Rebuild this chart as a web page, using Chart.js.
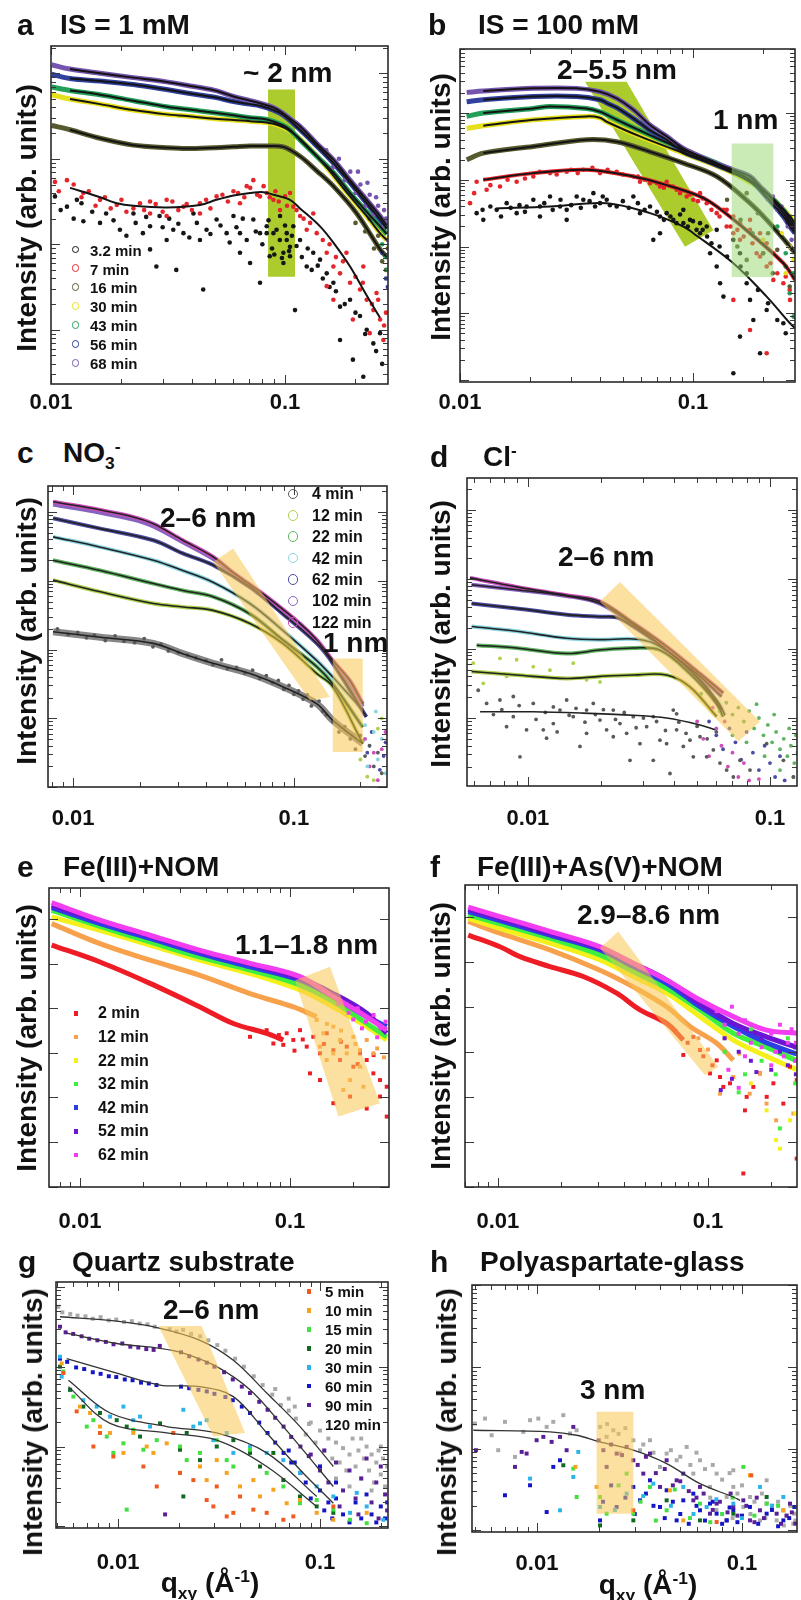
<!DOCTYPE html>
<html>
<head>
<meta charset="utf-8">
<title>GISAXS time series</title>
<script src="https://cdn.jsdelivr.net/npm/chart.js@4.4.0/dist/chart.umd.min.js"></script>
<style>
  html, body { margin: 0; padding: 0; background: #fff; }
  body { position: relative; width: 801px; height: 1600px; overflow: hidden;
         font-family: "Liberation Sans", Arial, Helvetica, sans-serif; color: #111; }
  .cv { position: absolute; }
  .t { position: absolute; font-weight: bold; line-height: 1; white-space: nowrap; z-index: 2; }
  .let { font-size: 30px; }
  .ttl, .ann { font-size: 28px; }
  .ylab { font-size: 28px; transform: translate(-50%, -50%) rotate(-90deg); }
  .xlab { font-size: 28px; transform: translateX(-50%); }
  .leg { position: absolute; font-weight: bold; line-height: 1; white-space: nowrap; z-index: 3; }
  sub, sup { font-size: 0.62em; line-height: 0; }
</style>
</head>
<body>

<div class="t let" style="left:17px;top:10px">a</div>
<div class="t ttl" style="left:60px;top:11px">IS = 1 mM</div>
<div class="t let" style="left:428px;top:10px">b</div>
<div class="t ttl" style="left:478px;top:11px">IS = 100 mM</div>
<div class="t let" style="left:17px;top:438px">c</div>
<div class="t ttl" style="left:63px;top:439px">NO<sub>3</sub><sup>-</sup></div>
<div class="t let" style="left:430px;top:442px">d</div>
<div class="t ttl" style="left:483px;top:443px">Cl<sup>-</sup></div>
<div class="t let" style="left:17px;top:852px">e</div>
<div class="t ttl" style="left:63px;top:853px">Fe(III)+NOM</div>
<div class="t let" style="left:430px;top:852px">f</div>
<div class="t ttl" style="left:477px;top:853px">Fe(III)+As(V)+NOM</div>
<div class="t let" style="left:18px;top:1247px">g</div>
<div class="t ttl" style="left:72px;top:1248px">Quartz substrate</div>
<div class="t let" style="left:430px;top:1247px">h</div>
<div class="t ttl" style="left:480px;top:1248px">Polyaspartate-glass</div>

<div class="t ylab" style="left:27px;top:218px">Intensity (arb. units)</div>
<div class="t ylab" style="left:441px;top:207px">Intensity (arb. units)</div>
<div class="t ylab" style="left:27px;top:631px">Intensity (arb. units)</div>
<div class="t ylab" style="left:441px;top:634px">Intensity (arb. units)</div>
<div class="t ylab" style="left:27px;top:1038px">Intensity (arb. units)</div>
<div class="t ylab" style="left:441px;top:1036px">Intensity (arb. units)</div>
<div class="t ylab" style="left:33px;top:1422px">Intensity (arb. units)</div>
<div class="t ylab" style="left:447px;top:1422px">Intensity (arb. units)</div>

<div class="t xlab" style="left:210px;top:1569px">q<sub>xy</sub> (Å<sup>-1</sup>)</div>
<div class="t xlab" style="left:648px;top:1571px">q<sub>xy</sub> (Å<sup>-1</sup>)</div>

<div class="t ann" style="left:243px;top:59px">~ 2 nm</div>
<div class="t ann" style="left:557px;top:56px">2–5.5 nm</div>
<div class="t ann" style="left:713px;top:106px">1 nm</div>
<div class="t ann" style="left:160px;top:504px">2–6 nm</div>
<div class="t ann" style="left:323px;top:629px">1 nm</div>
<div class="t ann" style="left:558px;top:543px">2–6 nm</div>
<div class="t ann" style="left:235px;top:931px">1.1–1.8 nm</div>
<div class="t ann" style="left:577px;top:901px">2.9–8.6 nm</div>
<div class="t ann" style="left:163px;top:1296px">2–6 nm</div>
<div class="t ann" style="left:580px;top:1376px">3 nm</div>

<script>
// every series is [q (1/Å), log10 intensity (arb. units)]

// ---------- a : IS = 1 mM ----------
const legA = ['3.2 min', '7 min', '16 min', '30 min', '43 min', '56 min', '68 min'];
const colA = ['#161616', '#e4262c', '#57592e', '#e6df1c', '#22a05a', '#30409c', '#7555ae'];
const a68 = [[0.01007,3.10],[0.01206,3.05],[0.0162,3.00],[0.0225,2.95],[0.0312,2.90],[0.038,2.86],[0.0501,2.80],[0.0602,2.73],[0.0709,2.68],[0.0782,2.65],[0.0892,2.60],[0.0984,2.53],[0.105,2.47],[0.1159,2.38],[0.1366,2.18],[0.1609,1.99],[0.1896,1.75],[0.2234,1.52],[0.2547,1.33],[0.272,1.22]];
const a56 = [[0.01007,2.99],[0.01206,2.94],[0.0162,2.91],[0.0225,2.87],[0.0312,2.81],[0.038,2.77],[0.0501,2.72],[0.0602,2.67],[0.0709,2.64],[0.0782,2.62],[0.0892,2.57],[0.0984,2.51],[0.1159,2.34],[0.1366,2.15],[0.1609,1.95],[0.1896,1.72],[0.2234,1.48],[0.2547,1.29],[0.272,1.18]];
const a43 = [[0.01007,2.84],[0.01206,2.80],[0.0162,2.75],[0.0225,2.68],[0.0312,2.61],[0.0433,2.56],[0.0602,2.51],[0.0709,2.48],[0.0835,2.46],[0.0984,2.39],[0.105,2.34],[0.1159,2.22],[0.1366,2.03],[0.1609,1.84],[0.1896,1.60],[0.2234,1.38],[0.2547,1.21],[0.272,1.12]];
const a30 = [[0.01007,2.75],[0.01206,2.70],[0.0162,2.64],[0.0225,2.57],[0.0312,2.52],[0.038,2.50],[0.0501,2.47],[0.0709,2.44],[0.0892,2.41],[0.1085,2.30],[0.1411,1.99],[0.1896,1.56],[0.2234,1.33],[0.2547,1.13],[0.272,1.05]];
const a16 = [[0.01007,2.39],[0.01206,2.34],[0.0162,2.24],[0.0225,2.16],[0.0312,2.13],[0.038,2.12],[0.0501,2.13],[0.0602,2.14],[0.0709,2.15],[0.0835,2.15],[0.0984,2.14],[0.1159,2.03],[0.1366,1.86],[0.1609,1.68],[0.2025,1.36],[0.2547,0.94],[0.272,0.85]];
const a7fit = [[0.01206,1.66],[0.0162,1.55],[0.0191,1.48],[0.0225,1.45],[0.0312,1.43],[0.0433,1.46],[0.051,1.52],[0.0602,1.57],[0.0709,1.60],[0.0808,1.61],[0.0892,1.58],[0.105,1.52],[0.1159,1.42],[0.1411,1.21],[0.1609,1.02],[0.1896,0.74],[0.2234,0.40],[0.2547,0.14]];
const a7 = [[0.0104,1.73],[0.0117,1.75],[0.01375,1.60],[0.0162,1.52],[0.0191,1.46],[0.0225,1.42],[0.0265,1.36],[0.0265,1.50],[0.0312,1.52],[0.0312,1.33],[0.0368,1.44],[0.0433,1.36],[0.0433,1.48],[0.051,1.56],[0.0602,1.62],[0.0642,1.48],[0.0686,1.68],[0.0732,1.75],[0.0782,1.56],[0.0835,1.60],[0.0892,1.52],[0.0952,1.40],[0.105,1.60],[0.1085,1.44],[0.1159,1.33],[0.1238,1.17],[0.1366,1.13],[0.1507,0.90],[0.1609,0.74],[0.1718,0.66],[0.1896,0.55],[0.2091,0.47],[0.2234,0.35],[0.2384,0.23],[0.2547,0.12],[0.1609,0.35],[0.195,0.12],[0.23,-0.04],[0.1507,0.51],[0.2632,-0.12],[0.132,1.36],[0.183,0.90],[0.216,0.74],[0.246,0.43],
  [0.0108,1.62],[0.0125,1.70],[0.0135,1.55],[0.0145,1.62],[0.0155,1.45],[0.017,1.55],[0.018,1.42],[0.02,1.52],[0.021,1.38],[0.024,1.48],[0.025,1.40],[0.028,1.47],[0.03,1.38],[0.033,1.50],[0.035,1.40],[0.038,1.47],[0.04,1.40],[0.046,1.52],[0.048,1.42],[0.054,1.58],[0.057,1.50],[0.063,1.60],[0.067,1.55],[0.071,1.66],[0.076,1.58],[0.081,1.68],[0.086,1.55],[0.091,1.62],[0.094,1.50],[0.1,1.56],[0.102,1.45],[0.112,1.40],[0.12,1.30],[0.128,1.25],[0.145,1.05],[0.155,1.00],[0.165,0.85],[0.177,0.80],[0.2,0.62],[0.215,0.55],[0.235,0.30],[0.25,0.35],[0.265,0.05],[0.27,0.2]];
const a3 = [[0.0104,1.56],[0.0117,1.44],[0.0129,1.52],[0.01375,1.27],[0.0162,1.25],[0.0172,1.36],[0.0197,1.17],[0.0225,1.36],[0.0247,1.13],[0.0265,1.21],[0.0291,1.33],[0.0312,1.05],[0.0333,1.17],[0.0368,1.13],[0.0406,1.36],[0.0433,1.05],[0.0447,0.47],[0.0462,1.17],[0.051,1.29],[0.0563,1.13],[0.0602,1.33],[0.0642,1.13],[0.0686,1.05],[0.0709,0.78],[0.0732,1.29],[0.0782,0.55],[0.0835,1.21],[0.0892,1.13],[0.0952,1.33],[0.0984,0.90],[0.1017,1.13],[0.1085,1.21],[0.1103,0.23],[0.1159,1.05],[0.1238,0.74],[0.132,0.90],[0.1411,0.82],[0.1507,0.66],[0.1609,0.55],[0.1718,0.27],[0.1896,0.35],[0.2091,0.16],[0.2234,0.0],[0.2384,-0.16],[0.2547,-0.04],[0.195,-0.35],[0.216,-0.55],[0.1718,-0.12],[0.0282,0.74],[0.0343,0.70],[0.0265,0.94],[0.0642,0.90],[0.0835,1.13],[0.092,1.17],[0.1017,1.05],[0.086,0.86],[0.0984,0.78],[0.0782,1.13],[0.105,0.97],
  [0.011,1.40],[0.0125,1.30],[0.0135,1.48],[0.015,1.38],[0.0185,1.28],[0.021,1.10],[0.023,1.25],[0.0255,1.32],[0.03,1.20],[0.032,1.30],[0.035,1.24],[0.039,1.08],[0.042,1.25],[0.048,1.12],[0.053,1.22],[0.058,1.02],[0.062,1.20],[0.066,1.30],[0.075,1.15],[0.08,1.00],[0.085,1.28],[0.088,0.95],[0.095,1.05],[0.1,1.22],[0.104,0.92],[0.107,1.10],[0.112,0.98],[0.118,0.85],[0.125,0.95],[0.13,0.70],[0.138,0.75],[0.145,0.60],[0.155,0.50],[0.165,0.45],[0.18,0.30],[0.2,0.20],[0.22,-0.05],[0.245,-0.25],[0.26,-0.40],[0.09,0.88],[0.097,0.84],[0.105,0.86]];
const a68pts = [[0.15,2.1],[0.16,1.9],[0.17,2.0],[0.18,1.75],[0.19,1.85],[0.2,1.6],[0.21,1.7],[0.22,1.45],[0.23,1.58],[0.24,1.35],[0.25,1.45],[0.26,1.2],[0.27,1.3],[0.275,1.05],[0.265,1.4],[0.245,1.55],[0.225,1.72],[0.205,1.85]];
const a16pts = [[0.2,1.25],[0.22,1.15],[0.24,0.95],[0.26,0.8],[0.27,0.7],[0.23,1.3],[0.25,1.1],[0.275,0.95]];
const a43pts = [[0.26,1.0],[0.27,0.85],[0.275,0.7],[0.265,1.2]];
const a56pts = [[0.27,0.6],[0.275,0.5],[0.26,0.9]];
const aBox = [[0.0846,2.81],[0.1103,2.81],[0.1103,0.62],[0.0846,0.62]];

// ---------- b : IS = 100 mM ----------
const b68 = [[0.01068,3.31],[0.01259,3.33],[0.02064,3.37],[0.03168,3.37],[0.0399,3.32],[0.04704,3.22],[0.05546,3.05],[0.0654,2.82],[0.07709,2.65],[0.09089,2.47],[0.1072,2.35],[0.1264,2.24],[0.149,2.15],[0.1757,2.05],[0.194,1.90],[0.2071,1.80],[0.2442,1.50],[0.2608,1.35],[0.274,1.25]];
const b56 = [[0.01068,3.17],[0.01259,3.20],[0.02064,3.25],[0.03168,3.25],[0.0399,3.20],[0.04262,3.15],[0.04704,3.08],[0.05924,2.85],[0.0654,2.74],[0.07709,2.60],[0.09089,2.42],[0.1072,2.32],[0.1264,2.22],[0.149,2.12],[0.1757,2.0],[0.2071,1.74],[0.2442,1.45],[0.2608,1.30],[0.274,1.2]];
const b43 = [[0.01068,2.95],[0.01259,3.0],[0.02064,3.07],[0.02434,3.10],[0.03497,3.07],[0.0399,3.02],[0.04704,2.90],[0.0654,2.67],[0.09089,2.45],[0.1264,2.25],[0.1757,2.0],[0.2071,1.80],[0.2442,1.55],[0.2608,1.40],[0.274,1.3]];
const b30 = [[0.01068,2.77],[0.01259,2.81],[0.02064,2.90],[0.03497,2.95],[0.0399,2.93],[0.04262,2.87],[0.05924,2.65],[0.09089,2.40],[0.149,2.10],[0.2071,1.80],[0.2608,1.45],[0.274,1.35]];
const b16 = [[0.01068,2.30],[0.01259,2.40],[0.02064,2.50],[0.03497,2.60],[0.04704,2.57],[0.0654,2.42],[0.09089,2.25],[0.1264,2.05],[0.1757,1.65],[0.2071,1.40],[0.2608,1.0],[0.274,0.9]];
const b7fit = [[0.01259,2.0],[0.02064,2.10],[0.03497,2.15],[0.05546,2.05],[0.07709,1.92],[0.1072,1.75],[0.1264,1.60],[0.1757,1.20],[0.2442,0.75],[0.274,0.50]];
const b7 = [[0.01104,1.65],[0.01179,1.97],[0.01301,1.85],[0.01485,1.90],[0.01751,1.97],[0.02064,2.05],[0.02434,2.10],[0.0287,2.12],[0.03383,2.15],[0.0399,2.10],[0.04704,2.12],[0.05546,2.05],[0.05924,1.97],[0.0654,1.95],[0.07218,1.90],[0.07709,1.97],[0.08507,1.85],[0.09394,1.75],[0.1003,1.70],[0.1072,1.80],[0.1145,1.65],[0.1264,1.50],[0.1395,1.30],[0.149,1.20],[0.1591,1.10],[0.1757,1.25],[0.1876,0.90],[0.2071,0.70],[0.2212,0.50],[0.2442,0.45],[0.2071,-0.60],[0.1757,-0.25],[0.149,0.20],[0.2608,0.20],[0.272,-0.05],[0.149,1.45],[0.1591,1.35],[0.1757,1.40],[0.194,1.20],[0.2071,1.05],[0.2212,0.90],[0.1395,1.55],[0.194,0.85],
  [0.0115,1.80],[0.0135,1.92],[0.016,2.00],[0.019,2.02],[0.022,2.12],[0.026,2.08],[0.03,2.15],[0.032,2.10],[0.037,2.18],[0.043,2.15],[0.05,2.08],[0.058,2.05],[0.062,2.0],[0.07,1.95],[0.075,1.88],[0.082,1.90],[0.088,1.80],[0.097,1.78],[0.105,1.68],[0.11,1.72],[0.12,1.55],[0.13,1.45],[0.135,1.55],[0.145,1.30],[0.155,1.25],[0.165,1.15],[0.18,1.05],[0.2,0.90],[0.215,0.75],[0.23,0.60],[0.25,0.55],[0.26,0.35]];
const b3fit = [[0.01437,1.57],[0.02434,1.60],[0.04262,1.65],[0.0654,1.50],[0.09089,1.30],[0.1003,1.20],[0.149,0.75],[0.2071,0.25],[0.2608,-0.15],[0.274,-0.22]];
const b3 = [[0.01179,1.50],[0.01259,1.40],[0.01437,1.55],[0.01586,1.65],[0.01751,1.50],[0.01932,1.60],[0.02064,1.70],[0.02204,1.45],[0.02434,1.75],[0.02688,1.60],[0.0287,1.40],[0.03168,1.75],[0.03383,1.70],[0.03736,1.80],[0.0399,1.65],[0.04262,1.70],[0.04704,1.60],[0.05546,1.75],[0.05924,1.50],[0.0654,1.60],[0.07218,1.45],[0.07709,1.50],[0.08234,1.40],[0.09089,1.55],[0.09706,1.40],[0.1036,1.25],[0.1072,1.20],[0.1145,1.30],[0.1264,1.25],[0.06754,1.10],[0.07218,1.20],[0.1184,0.90],[0.1264,0.70],[0.1307,0.45],[0.1351,0.25],[0.149,1.10],[0.1591,0.90],[0.1699,0.60],[0.1757,0.20],[0.1815,-0.10],[0.194,-0.60],[0.1591,-0.35],[0.2071,0.05],[0.2442,-0.15],[0.149,-0.90],[0.1072,1.35],[0.09089,1.35],[0.0287,1.55],[0.02204,1.60],
  [0.0125,1.55],[0.0135,1.60],[0.015,1.45],[0.0165,1.58],[0.018,1.62],[0.019,1.52],[0.023,1.65],[0.025,1.55],[0.027,1.70],[0.03,1.62],[0.033,1.58],[0.036,1.68],[0.038,1.60],[0.041,1.75],[0.044,1.62],[0.05,1.68],[0.053,1.58],[0.058,1.65],[0.062,1.55],[0.07,1.52],[0.075,1.40],[0.08,1.45],[0.085,1.35],[0.088,1.48],[0.095,1.30],[0.1,1.38],[0.11,1.25],[0.115,1.15],[0.12,1.05],[0.13,1.0],[0.14,0.85],[0.16,0.7],[0.17,0.45],[0.19,0.35],[0.21,0.15],[0.23,-0.1],[0.25,-0.3]];
const b68pts = [[0.2,1.85],[0.21,1.7],[0.22,1.75],[0.23,1.55],[0.24,1.6],[0.25,1.4],[0.26,1.45],[0.27,1.25],[0.265,1.1],[0.255,1.3]];
const b30pts = [[0.24,1.2],[0.26,1.0],[0.27,0.8],[0.25,0.6],[0.2,1.1]];
const b43pts = [[0.25,0.9],[0.27,0.6],[0.23,1.3],[0.26,0.3],[0.27,-0.05]];
const b16pts = [[0.15,2.1],[0.17,1.8],[0.19,1.5],[0.21,1.2],[0.23,0.95],[0.25,0.7],[0.18,1.2],[0.2,0.9],[0.16,1.4],[0.22,0.6],[0.26,0.4],[0.14,1.7],[0.155,1.0],[0.17,0.8]];
const bBox1 = [[0.0344,3.47],[0.0519,3.47],[0.1223,1.245],[0.0924,0.995]];
const bBox2 = [[0.1466,2.545],[0.2212,2.545],[0.2212,0.545],[0.1466,0.545]];

// ---------- c : NO3- ----------
const legC = ['4 min', '12 min', '22 min', '42 min', '62 min', '102 min', '122 min'];
const colC = ['#5a5a5a', '#aed14e', '#5eb35e', '#8ad4e0', '#4c4ca4', '#8763c0', '#cc4db8'];
const c122 = [[0.00812,3.15],[0.0133,3.03],[0.0187,2.93],[0.0231,2.83],[0.0314,2.59],[0.043,2.35],[0.0531,2.12],[0.0752,1.77],[0.1064,1.38],[0.127,1.14],[0.15,0.84],[0.1792,0.55],[0.205,0.21]];
const c102 = [[0.00812,3.11],[0.0133,2.99],[0.0187,2.89],[0.0231,2.79],[0.0314,2.56],[0.043,2.32],[0.0531,2.10],[0.0752,1.75],[0.1064,1.36],[0.127,1.12],[0.15,0.83],[0.1792,0.52],[0.205,0.17]];
const c62 = [[0.00812,2.91],[0.0133,2.76],[0.0231,2.59],[0.0314,2.40],[0.043,2.23],[0.0632,1.91],[0.089,1.52],[0.127,1.09],[0.15,0.80],[0.213,0.02]];
const c42 = [[0.00812,2.64],[0.0133,2.49],[0.0231,2.30],[0.0314,2.15],[0.043,1.98],[0.0632,1.67],[0.089,1.28],[0.127,0.84],[0.15,0.60],[0.205,0.12]];
const c22 = [[0.00812,2.30],[0.0133,2.15],[0.0231,1.96],[0.0314,1.86],[0.043,1.77],[0.0632,1.52],[0.089,1.14],[0.127,0.75],[0.15,0.50],[0.205,-0.13]];
const c12 = [[0.00812,2.01],[0.0133,1.84],[0.0231,1.67],[0.0314,1.62],[0.043,1.57],[0.0632,1.38],[0.089,1.09],[0.127,0.65],[0.15,0.46],[0.205,-0.37]];
const c4fit = [[0.00812,1.26],[0.0133,1.18],[0.0231,1.09],[0.0314,0.94],[0.043,0.80],[0.0632,0.65],[0.089,0.46],[0.127,0.21],[0.15,-0.03],[0.205,-0.37]];
const c4 = [[0.0085,1.30],[0.0095,1.22],[0.0105,1.25],[0.0115,1.17],[0.0125,1.21],[0.014,1.13],[0.0155,1.20],[0.017,1.12],[0.019,1.10],[0.021,1.16],[0.023,1.04],[0.025,1.08],[0.027,0.98],[0.03,0.96],[0.033,0.92],[0.036,0.88],[0.04,0.84],[0.043,0.78],[0.047,0.85],[0.05,0.72],[0.055,0.74],[0.06,0.66],[0.065,0.70],[0.07,0.58],[0.075,0.62],[0.08,0.52],[0.085,0.55],[0.09,0.42],[0.095,0.48],[0.1,0.35],[0.105,0.40],[0.11,0.28],[0.115,0.34],[0.12,0.18],[0.13,0.25],[0.135,0.10],[0.14,0.05],[0.15,-0.05],[0.16,-0.20],[0.17,-0.12],[0.18,-0.30],[0.19,-0.45],[0.2,-0.25],[0.21,-0.55],[0.22,-0.40],[0.23,-0.70],[0.24,-0.50],[0.25,-0.80]];
const c42pts = [[0.21,-0.1],[0.22,-0.4],[0.23,-0.2],[0.24,-0.6],[0.25,-0.3],[0.26,-0.8],[0.215,-0.7],[0.235,0.1]];
const c122pts = [[0.21,-0.3],[0.22,-0.7],[0.23,-0.5],[0.24,-0.9],[0.25,-0.45],[0.26,-0.2]];
const c62pts = [[0.215,-0.5],[0.225,-0.2],[0.245,-0.75],[0.255,-0.55],[0.26,-0.35]];
const c12pts = [[0.2,-0.6],[0.215,-0.85],[0.23,-0.9],[0.24,-0.15],[0.25,0.0]];
const cBox1 = [[0.0431,2.275],[0.0531,2.47],[0.1455,0.31],[0.1181,0.26]];
const cBox2 = [[0.15,0.87],[0.205,0.87],[0.205,-0.49],[0.15,-0.49]];

// ---------- d : Cl- ----------
const d122 = [[0.00576,2.02],[0.00898,1.89],[0.01445,1.77],[0.01984,1.68],[0.02723,1.37],[0.0374,1.03],[0.0514,0.64],[0.0641,0.36]];
const d102 = [[0.00585,1.92],[0.00898,1.85],[0.01445,1.76],[0.01984,1.65],[0.02723,1.35],[0.0374,0.98],[0.0514,0.60],[0.0631,0.31]];
const d62 = [[0.00585,1.65],[0.00898,1.58],[0.01445,1.49],[0.01984,1.46],[0.02328,1.45],[0.02723,1.32],[0.0374,0.98],[0.0514,0.55],[0.0631,0.12]];
const d42 = [[0.00585,1.32],[0.00898,1.25],[0.01445,1.15],[0.01984,1.13],[0.02723,1.14],[0.03296,1.08],[0.04385,0.79],[0.0602,0.26],[0.0652,0.04]];
const d22 = [[0.00614,1.05],[0.00898,1.01],[0.01445,0.93],[0.01984,0.98],[0.02723,1.01],[0.0351,0.98],[0.04669,0.64],[0.0602,0.21],[0.0641,0.02]];
const d12 = [[0.00585,0.67],[0.00898,0.62],[0.01445,0.57],[0.01984,0.60],[0.02723,0.62],[0.0374,0.62],[0.04669,0.45],[0.0602,0.02]];
const d12pts = [[0.00594,0.79],[0.00766,0.86],[0.00898,0.84],[0.01052,0.74],[0.01233,0.69],[0.01539,0.79],[0.01747,0.55],[0.01984,0.52],[0.00654,0.50],[0.00816,0.60]];
const d4fit = [[0.00634,0.09],[0.0105,0.09],[0.01693,0.07],[0.02723,0.04],[0.0374,0.0],[0.0514,-0.10],[0.0593,-0.17]];
const d4 = [[0.00623,0.40],[0.00675,0.21],[0.00766,0.26],[0.00816,-0.125],[0.0087,0.31],[0.00927,-0.56],[0.00987,-0.17],[0.01052,0.21],[0.01157,-0.17],[0.01194,-0.29],[0.01273,0.16],[0.01356,0.115],[0.01445,0.26],[0.01539,0.02],[0.0164,-0.41],[0.01747,0.115],[0.01862,0.21],[0.01984,-0.03],[0.02114,-0.17],[0.02252,0.115],[0.024,-0.08],[0.02557,-0.22],[0.02724,0.02],[0.02903,-0.37],[0.03093,-0.125],[0.03295,-0.61],[0.03511,-0.32],[0.03741,-0.37],[0.03986,0.115],[0.04115,-0.17],[0.04385,-0.41],[0.04671,-0.32],[0.04822,-0.56],[0.05138,-0.27],[0.05474,-0.56],[0.05833,-0.46],[0.06215,-0.65],[0.06621,-0.75],[0.07055,-0.85],[0.07516,-0.61],[0.08268,-0.75],[0.09688,-0.37],[0.1136,-0.61],[0.1249,-0.85],[0.03862,-0.80],[0.0264,-0.61],[0.0087,0.02],[0.01273,-0.08],[0.02252,-0.27],[0.01747,-0.22],[0.03295,0.02],[0.04115,0.06],
  [0.0072,0.05],[0.0078,0.12],[0.0092,0.18],[0.0108,-0.02],[0.0118,0.08],[0.0132,-0.20],[0.0148,0.04],[0.0158,0.14],[0.0172,-0.06],[0.019,0.05],[0.0205,0.12],[0.023,-0.02],[0.025,0.08],[0.028,-0.14],[0.03,0.0],[0.034,-0.05],[0.037,-0.18],[0.042,-0.06],[0.045,-0.22],[0.05,-0.12],[0.055,-0.30],[0.06,-0.20]];
const d22pts = [[0.052,0.35],[0.058,0.30],[0.062,0.10],[0.066,0.22],[0.07,0.05],[0.074,0.15],[0.078,-0.05],[0.082,0.10],[0.086,-0.15],[0.09,0.0],[0.094,-0.25],[0.098,-0.10],[0.102,-0.35],[0.106,-0.20],[0.11,-0.45],[0.114,-0.30],[0.118,-0.55],[0.122,-0.40],[0.126,-0.65],[0.13,-0.50],[0.08,-0.35],[0.095,-0.55],[0.11,-0.75],[0.125,-0.85],[0.07,-0.25],[0.088,0.20],[0.104,0.05],[0.12,-0.15],[0.128,-0.25]];
const d62pts = [[0.056,-0.05],[0.06,-0.25],[0.064,-0.45],[0.068,-0.15],[0.072,-0.35],[0.076,-0.60],[0.08,-0.20],[0.085,-0.50],[0.09,-0.75],[0.095,-0.40],[0.1,-0.65],[0.105,-0.85],[0.11,-0.55],[0.115,-0.9]];
const d122pts = [[0.05,-0.05],[0.053,-0.30],[0.056,-0.55],[0.06,-0.15],[0.063,-0.40],[0.067,-0.70],[0.07,-0.50],[0.074,-0.85],[0.078,-0.65],[0.082,-0.90],[0.09,-0.88],[0.058,0.15],[0.065,-0.05]];
const dBox = [[0.01984,1.68],[0.024,1.96],[0.0909,-0.05],[0.074,-0.34]];

// ---------- e : Fe(III)+NOM ----------
const legE = ['2 min', '12 min', '22 min', '32 min', '42 min', '52 min', '62 min'];
const colE = ['#ee1c24', '#f7a14c', '#f4f01c', '#3ef03e', '#2b3fe6', '#6a14d4', '#f23ef0'];
const e2 = [[0.00733,4.42],[0.01245,4.04],[0.02154,3.56],[0.03728,3.03],[0.0537,2.66],[0.0774,2.44],[0.0929,2.29]];
const e2pts = [[0.0964,2.44],[0.1037,2.29],[0.1116,2.51],[0.1201,2.14],[0.1291,2.36],[0.1389,1.99],[0.1495,2.44],[0.1608,2.06],[0.173,1.84],[0.1862,2.14],[0.2003,1.69],[0.2154,1.99],[0.2318,1.84],[0.2494,1.54],[0.2683,1.39],[0.2887,1.24],[0.2887,0.57],[0.1245,1.54],[0.1389,1.39],[0.1608,0.87],[0.1931,1.02],[0.2318,0.75],[0.2683,1.02],[0.0645,2.36],[0.0774,2.51],[0.0833,2.21],[0.0885,2.40],[0.0929,2.18],[0.105,2.05],[0.115,2.30],[0.145,2.20],[0.175,2.25],[0.21,1.75],[0.25,1.95]];
const e12 = [[0.00733,4.90],[0.01245,4.45],[0.02154,4.08],[0.03728,3.74],[0.0645,3.33],[0.1037,3.03],[0.134,2.81]];
const e12pts = [[0.134,2.74],[0.1441,2.44],[0.1608,2.59],[0.173,2.29],[0.1862,1.99],[0.2003,2.36],[0.2154,2.06],[0.1608,1.99],[0.1931,1.39],[0.2235,1.24],[0.2318,2.29],[0.1795,1.17],[0.1389,2.14],[0.1495,1.84],[0.2494,1.99],[0.2154,1.69],[0.12,2.9],[0.15,2.65],[0.175,2.5],[0.205,2.2],[0.26,2.1],[0.28,1.9]];
const e22 = [[0.00733,5.05],[0.01245,4.75],[0.02154,4.42],[0.03728,4.08],[0.0645,3.78],[0.1116,3.41],[0.1608,3.03],[0.2318,2.59],[0.2887,2.29]];
const e32 = [[0.00733,5.20],[0.01245,4.84],[0.02154,4.49],[0.03728,4.15],[0.0645,3.86],[0.1116,3.52],[0.1608,3.15],[0.2318,2.66],[0.2887,2.36]];
const e42 = [[0.00733,5.26],[0.01245,4.90],[0.02154,4.57],[0.03728,4.23],[0.0645,3.93],[0.1116,3.63],[0.1608,3.26],[0.2318,2.81],[0.2887,2.59]];
const e52 = [[0.00733,5.31],[0.01245,4.96],[0.02154,4.62],[0.03728,4.28],[0.0645,3.99],[0.1116,3.67],[0.1608,3.33],[0.2318,2.89],[0.2887,2.44]];
const e62 = [[0.00733,5.37],[0.01245,4.98],[0.02154,4.64],[0.03728,4.30],[0.0645,4.01],[0.1116,3.71],[0.1608,3.26],[0.2318,2.81],[0.2887,2.51]];
const e62pts = [[0.17,3.1],[0.19,2.9],[0.21,3.0],[0.23,2.7],[0.25,2.85],[0.27,2.55],[0.285,2.7],[0.22,2.55],[0.26,2.35],[0.2,2.75]];
const eBox = [[0.1057,3.63],[0.155,3.93],[0.268,0.87],[0.17,0.57]];

// ---------- f : Fe(III)+As(V)+NOM ----------
const f2 = [[0.00722,4.59],[0.01022,4.33],[0.01273,4.11],[0.01768,3.89],[0.02548,3.67],[0.03674,3.30],[0.04745,2.93],[0.0636,2.63],[0.0763,2.26]];
const f2pts = [[0.0763,1.93],[0.1022,1.52],[0.1141,1.44],[0.1183,1.22],[0.1528,1.0],[0.15,0.70],[0.1903,1.0],[0.2284,0.85],[0.1473,-0.70],[0.2643,-0.37],[0.0852,2.33],[0.0916,2.04],[0.11,1.81],[0.1273,1.30],[0.1644,1.22],[0.1768,1.52],[0.2048,1.30],[0.2458,1.67],[0.2645,1.37],[0.08,2.2],[0.07,2.45],[0.095,1.9],[0.105,1.7]];
const f12 = [[0.00722,4.89],[0.01022,4.63],[0.01768,4.26],[0.0306,3.81],[0.0441,3.44],[0.0636,3.0],[0.0821,2.56],[0.11,2.19],[0.132,1.81]];
const f12pts = [[0.132,1.44],[0.158,1.07],[0.19,0.85],[0.211,0.48],[0.255,0.63],[0.1141,1.07],[0.141,1.96],[0.1768,1.52],[0.09,2.3],[0.1,2.05],[0.12,2.3]];
const f22 = [[0.00722,4.96],[0.01022,4.74],[0.01768,4.41],[0.0306,4.04],[0.0441,3.67],[0.0636,3.30],[0.0916,2.78],[0.132,2.26],[0.19,1.9],[0.265,1.6]];
const f22pts = [[0.211,0.04],[0.22,-0.15],[0.2458,0.48],[0.19,0.70],[0.26,0.63],[0.16,1.3]];
const f32 = [[0.00722,5.04],[0.01022,4.84],[0.01768,4.52],[0.0306,4.15],[0.0441,3.78],[0.0636,3.41],[0.0916,2.93],[0.132,2.41],[0.19,2.1],[0.265,1.8]];
const f32pts = [[0.12,2.0],[0.15,1.5],[0.18,1.8],[0.21,1.5],[0.24,2.3],[0.26,1.3],[0.14,1.1],[0.22,0.3],[0.16,2.5]];
const f42 = [[0.00722,5.11],[0.01022,4.91],[0.01768,4.59],[0.0306,4.26],[0.0441,3.89],[0.0636,3.52],[0.0916,3.0],[0.132,2.56],[0.19,2.2],[0.265,1.95]];
const f52 = [[0.00722,5.16],[0.01022,4.96],[0.01768,4.63],[0.0306,4.30],[0.0441,3.96],[0.0636,3.59],[0.0916,3.07],[0.132,2.63],[0.19,2.33],[0.265,2.1]];
const f52pts = [[0.12,2.3],[0.14,2.0],[0.16,1.8],[0.18,2.3],[0.2,1.6],[0.22,2.0],[0.24,1.7],[0.26,2.1],[0.13,1.4],[0.17,1.55],[0.262,1.5],[0.115,1.15]];
const f62 = [[0.00722,5.21],[0.01022,5.0],[0.01768,4.67],[0.0306,4.33],[0.0441,3.96],[0.0636,3.59],[0.0916,3.15],[0.132,2.78],[0.19,2.48],[0.265,2.41]];
const f62pts = [[0.11,2.9],[0.12,2.6],[0.13,3.0],[0.14,2.4],[0.15,2.7],[0.16,2.2],[0.17,2.55],[0.18,2.1],[0.2,2.4],[0.21,2.0],[0.22,2.6],[0.23,1.9],[0.24,2.2],[0.25,2.5],[0.26,1.8],[0.262,2.2],[0.15,1.9],[0.2,1.7],[0.125,1.6],[0.14,1.2]];
const fBox = [[0.0306,4.30],[0.0374,4.67],[0.112,1.67],[0.0968,1.48]];

// ---------- g : quartz substrate ----------
const legG = ['5 min', '10 min', '15 min', '20 min', '30 min', '60 min', '90 min', '120 min'];
const colG = ['#f05a1e', '#f7a21c', '#40e040', '#0f6a1f', '#2cb4ea', '#1515c8', '#5a1f96', '#a9a9a9'];
const g120 = [[0.00506,2.75],[0.0053,2.68],[0.0058,2.66],[0.0063,2.64],[0.0069,2.63],[0.0075,2.60],[0.0082,2.62],[0.009,2.58],[0.0098,2.59],[0.0107,2.56],[0.0117,2.57],[0.0128,2.54],[0.014,2.53],[0.0152,2.50],[0.018,2.47],[0.0195,2.44],[0.021,2.46],[0.023,2.41],[0.0255,2.38],[0.028,2.33],[0.031,2.27],[0.034,2.2],[0.038,2.1],[0.042,2.0],[0.047,1.88],[0.052,1.77],[0.058,1.65],[0.064,1.52],[0.07,1.45],[0.076,1.35],[0.085,1.15],[0.09,1.3],[0.095,1.05],[0.1,1.2],[0.105,0.95],[0.11,1.1],[0.115,0.85],[0.12,1.05],[0.125,0.8],[0.13,0.98],[0.135,0.7],[0.14,0.9],[0.145,1.1],[0.15,0.75],[0.155,0.95],[0.16,0.6],[0.165,0.85],[0.17,1.0],[0.175,0.7],[0.18,0.9],[0.185,0.55],[0.19,0.8],[0.195,0.95],[0.2,0.65],[0.205,0.85],[0.21,0.5],[0.215,0.75],[0.1,0.75],[0.12,0.6],[0.14,0.5],[0.16,1.1],[0.18,0.45],[0.2,1.0],[0.07,1.6],[0.075,1.5],[0.06,1.72]];
const g90 = [[0.00516,2.50],[0.0055,2.43],[0.006,2.41],[0.0066,2.38],[0.0072,2.35],[0.0079,2.33],[0.0087,2.31],[0.0095,2.28],[0.0105,2.29],[0.0115,2.25],[0.0126,2.24],[0.0138,2.22],[0.015,2.21],[0.0161,2.26],[0.0205,2.18],[0.0225,2.13],[0.025,2.09],[0.0275,2.05],[0.03,2.0],[0.0335,1.93],[0.037,1.84],[0.041,1.75],[0.045,1.67],[0.05,1.56],[0.055,1.46],[0.06,1.36],[0.066,1.25],[0.072,1.12],[0.08,1.0],[0.088,0.88],[0.09,0.9],[0.1,0.7],[0.105,0.95],[0.11,0.55],[0.12,0.8],[0.13,0.45],[0.14,0.7],[0.15,0.35],[0.16,0.6],[0.17,0.85],[0.18,0.3],[0.19,0.55],[0.2,0.75],[0.21,0.4],[0.215,0.2],[0.125,0.25],[0.155,0.15],[0.195,0.1],[0.0171,0.15]];
const g60 = [[0.00516,2.10],[0.0056,2.06],[0.0062,1.99],[0.0068,1.97],[0.0075,1.93],[0.0082,1.91],[0.009,1.88],[0.0098,1.87],[0.0108,1.84],[0.0118,1.83],[0.013,1.80],[0.0142,1.79],[0.0155,1.77],[0.0205,1.75],[0.0225,1.73],[0.025,1.71],[0.0275,1.69],[0.03,1.66],[0.034,1.62],[0.037,1.58],[0.041,1.50],[0.045,1.42],[0.05,1.30],[0.055,1.17],[0.06,1.05],[0.066,0.92],[0.072,0.80],[0.08,0.67],[0.085,0.55],[0.09,0.35],[0.1,0.45],[0.105,0.2],[0.11,0.3],[0.115,0.1],[0.12,0.35],[0.13,0.15],[0.14,0.05],[0.15,0.3],[0.16,0.1],[0.17,0.4],[0.18,0.15],[0.19,0.05],[0.2,0.25],[0.21,0.1],[0.215,0.3],[0.12,0.55],[0.1,0.75],[0.07,0.95],[0.075,0.8]];
const g30 = [[0.00516,2.125],[0.00526,1.875],[0.00579,1.71],[0.00673,1.58],[0.00784,1.5],[0.00913,1.375],[0.01063,1.5],[0.0119,1.33],[0.01285,1.375],[0.0144,1.25],[0.02105,1.46],[0.0236,1.25],[0.02546,1.29],[0.02747,1.33],[0.02965,1.08],[0.03452,1.17],[0.03723,0.92],[0.04503,1.0],[0.05446,0.92],[0.06582,0.83],[0.0796,0.67],[0.0963,0.5],[0.1164,0.375],[0.1408,0.17],[0.1703,0.25],[0.2058,0.083],[0.152,0.42]];
const g20 = [[0.00516,2.0],[0.00579,1.71],[0.00673,1.5],[0.00814,1.42],[0.00985,1.33],[0.01104,1.25],[0.01285,1.125],[0.01614,1.29],[0.02027,0.96],[0.02188,1.17],[0.02546,0.83],[0.03081,1.0],[0.03723,1.08],[0.04503,0.92],[0.05047,0.75],[0.05875,0.92],[0.06582,0.58],[0.0796,0.375],[0.0963,0.25],[0.1164,0.17],[0.02105,0.375]];
const g15 = [[0.00536,1.94],[0.00601,1.625],[0.007,1.25],[0.00755,1.33],[0.00879,1.125],[0.00948,0.92],[0.01063,1.04],[0.0119,1.21],[0.01335,0.96],[0.01555,1.08],[0.02027,1.0],[0.02188,0.83],[0.02546,0.92],[0.03081,1.08],[0.03452,0.83],[0.03723,0.75],[0.04503,0.96],[0.05446,0.67],[0.06582,0.5],[0.0796,0.29],[0.0963,0.33],[0.1164,0.21],[0.1408,0.083],[0.01104,0.21],[0.1703,0.04]];
const g10 = [[0.00526,2.04],[0.00648,1.5],[0.00727,1.42],[0.00814,1.25],[0.00913,1.17],[0.01063,0.92],[0.0119,1.17],[0.01386,1.0],[0.01496,0.92],[0.01742,1.04],[0.02027,0.67],[0.02546,0.75],[0.02747,0.58],[0.03081,0.83],[0.03452,0.67],[0.04018,0.5],[0.04677,0.58],[0.05047,0.375],[0.05875,0.46],[0.06839,0.29],[0.0796,0.33],[0.0963,0.17],[0.1164,0.083],[0.1703,0.17]];
const g5 = [[0.00536,1.92],[0.00624,1.44],[0.00755,1.0],[0.00814,1.17],[0.00948,0.875],[0.01335,0.75],[0.01555,0.5],[0.01878,1.17],[0.02027,0.67],[0.0236,0.58],[0.02747,0.33],[0.02965,0.25],[0.03452,0.125],[0.03723,0.17],[0.04018,0.375],[0.04677,0.21],[0.05446,0.17],[0.06582,0.083],[0.07379,0.125],[0.03081,0.5],[0.1164,0.25]];
const g120fit = [[0.00516,2.625],[0.00985,2.57],[0.01555,2.49],[0.02546,2.33],[0.03723,2.08],[0.05446,1.67],[0.0796,1.25],[0.1164,0.75]];
const g90fit = [[0.00557,2.42],[0.00985,2.29],[0.01614,2.23],[0.02105,2.17],[0.03081,2.0],[0.04503,1.71],[0.06582,1.25],[0.0963,0.75],[0.1164,0.5]];
const g60fit = [[0.00557,2.10],[0.00985,1.92],[0.01614,1.77],[0.02546,1.75],[0.03723,1.625],[0.05446,1.17],[0.0796,0.71],[0.1164,0.29]];
const gFitA = [[0.00568,1.83],[0.00913,1.42],[0.01742,1.25],[0.03081,1.17],[0.05446,0.92],[0.0963,0.375]];
const gFitB = [[0.00568,1.75],[0.00913,1.29],[0.01742,1.17],[0.03081,1.08],[0.05446,0.75],[0.0963,0.25]];
const gBox = [[0.01584,2.51],[0.02596,2.51],[0.04253,1.17],[0.02964,1.125]];

// ---------- h : polyaspartate-glass ----------
const h120 = [[0.00498,1.306],[0.00558,1.367],[0.00601,1.163],[0.00647,0.98],[0.00698,1.327],[0.00781,0.898],[0.00858,1.204],[0.00925,1.347],[0.01015,1.367],[0.01115,1.265],[0.01201,1.327],[0.01344,1.408],[0.01449,1.184],[0.01561,1.224],[0.0203,1.265],[0.02187,1.143],[0.02357,1.224],[0.02951,1.102],[0.03557,1.102],[0.0429,0.939],[0.05372,1.02],[0.06238,0.857],[0.07521,0.694],[0.09071,0.531],[0.1094,0.408],[0.1319,0.327],[0.1591,0.245],[0.18,0.204],[0.02541,0.939],[0.0318,0.98],[0.03981,0.776],[0.048,0.857],[0.05789,0.694],[0.06981,0.531],[0.08418,0.408],[0.1015,0.286],[0.1224,0.122],[0.1476,0.122],[0.178,0.082],[0.09071,0.735],[0.1319,0.612],
  [0.022,1.30],[0.025,1.18],[0.027,1.25],[0.033,1.05],[0.037,0.95],[0.045,0.98],[0.05,0.90],[0.056,0.80],[0.06,0.95],[0.066,0.75],[0.072,0.80],[0.08,0.62],[0.087,0.70],[0.095,0.45],[0.1,0.55],[0.115,0.35],[0.125,0.45],[0.14,0.25],[0.15,0.35],[0.165,0.18],[0.172,0.30],[0.182,0.12],[0.11,0.2],[0.13,0.15],[0.16,0.06],[0.07,0.4],[0.09,0.15],[0.075,0.25]];
const h90 = [[0.00504,0.98],[0.00781,0.776],[0.00842,0.959],[0.0089,0.939],[0.00996,1.102],[0.01074,1.143],[0.01179,1.082],[0.01295,1.143],[0.01395,0.98],[0.01504,1.265],[0.02107,0.98],[0.02446,0.939],[0.02951,0.857],[0.03557,0.939],[0.0429,0.857],[0.05172,0.694],[0.06238,0.531],[0.07521,0.327],[0.09071,0.286],[0.1094,0.122],[0.02187,0.776],[0.02737,1.02],[0.03301,0.694],[0.03981,0.531],[0.048,0.612],[0.05789,0.367],[0.06981,0.204],[0.08418,0.122],[0.1015,0.367],[0.1224,0.245],[0.1476,0.204],[0.1715,0.327],[0.182,0.082],
  [0.02,1.10],[0.023,1.05],[0.026,0.92],[0.031,0.80],[0.034,0.90],[0.038,0.70],[0.042,0.75],[0.046,0.55],[0.05,0.60],[0.055,0.48],[0.06,0.40],[0.065,0.45],[0.072,0.25],[0.078,0.35],[0.085,0.22],[0.095,0.18],[0.105,0.30],[0.115,0.10],[0.128,0.15],[0.14,0.30],[0.155,0.08],[0.165,0.18],[0.175,0.22],[0.118,0.40],[0.088,0.45]];
const h60 = [[0.00698,0.429],[0.00925,0.551],[0.01115,0.224],[0.01201,0.776],[0.01295,0.857],[0.0203,0.122],[0.02446,0.286],[0.02951,0.531],[0.03557,0.612],[0.0429,0.49],[0.05172,0.367],[0.06238,0.245],[0.07521,0.204],[0.09071,0.245],[0.1319,0.204],[0.0318,0.367],[0.03981,0.286],[0.048,0.122],[0.05789,0.449],[0.06981,0.327],[0.08418,0.122],[0.1094,0.286],[0.1591,0.122],[0.18,0.286],
  [0.021,0.35],[0.023,0.55],[0.027,0.40],[0.03,0.20],[0.034,0.45],[0.037,0.30],[0.042,0.15],[0.046,0.35],[0.05,0.20],[0.055,0.08],[0.06,0.30],[0.066,0.12],[0.072,0.35],[0.08,0.08],[0.087,0.28],[0.095,0.10],[0.1,0.18],[0.12,0.08],[0.14,0.25],[0.15,0.05],[0.17,0.15]];
const h30 = [[0.01295,0.245],[0.0159,0.959],[0.01504,0.653],[0.00925,0.633],[0.0203,0.286],[0.02737,0.449],[0.03694,0.571],[0.05172,0.531],[0.09071,0.327],[0.06724,0.286],[0.1224,0.531],[0.1591,0.408],[0.024,0.25],[0.033,0.42],[0.045,0.30],[0.058,0.20],[0.075,0.38],[0.1,0.15],[0.14,0.30]];
const h15 = [[0.01504,0.755],[0.01561,0.408],[0.0203,0.408],[0.02187,0.204],[0.02951,0.204],[0.03557,0.531],[0.0429,0.245],[0.06238,0.327],[0.1015,0.776],[0.1319,0.327],[0.02737,0.694],[0.0558,0.15],[0.08,0.2],[0.025,0.55],[0.032,0.35],[0.038,0.12],[0.047,0.50],[0.07,0.10],[0.09,0.40],[0.115,0.18],[0.15,0.30]];
const h20 = [[0.01344,0.796],[0.0203,0.061],[0.02951,0.122],[0.0429,0.367],[0.06238,0.122],[0.09071,0.204],[0.1319,0.408]];
const h10 = [[0.0154,0.776],[0.01954,0.531],[0.0445,0.49],[0.1094,0.673],[0.05172,0.122],[0.1591,0.245]];
const h5 = [[0.111,0.673],[0.07521,0.102],[0.02951,0.245]];
const hFit = [[0.00489,1.224],[0.01157,1.204],[0.01561,1.163],[0.0203,1.082],[0.02951,0.98],[0.0429,0.816],[0.06238,0.571],[0.09071,0.408],[0.0978,0.367]];
const hBox = [[0.01954,1.449],[0.02951,1.449],[0.02951,0.204],[0.01954,0.204]];

// x tick labels
const xTickVals = [0.01, 0.1];
const xTickText = ['0.01', '0.1'];

// ---------- dataset helpers ----------
const xy = pts => pts.map(p => ({ x: p[0], y: p[1] }));
function band(pts, color, w) {
  return { data: xy(pts), borderColor: color, borderWidth: w, pointRadius: 0, tension: 0.35, fill: false, order: 4, clip: 0 };
}
function fit(pts, w, color) {
  return { data: xy(pts), borderColor: color || '#141414', borderWidth: w, pointRadius: 0, tension: 0.35, fill: false, order: 1, clip: 0 };
}
function dots(pts, color, r, style) {
  return { data: xy(pts), showLine: false, pointRadius: r, pointStyle: style || 'circle',
           pointBackgroundColor: color, pointBorderWidth: 0, borderColor: color, backgroundColor: color, order: 3, clip: 0 };
}
function shade(pts, color, onTop) {
  return { data: xy(pts.concat([pts[0]])), borderWidth: 0, borderColor: 'rgba(0,0,0,0)', backgroundColor: color,
           pointRadius: 0, tension: 0, fill: 'shape', order: onTop ? 0 : 10, clip: 0 };
}

// frame with inward ticks on all four sides
const framePlugin = {
  id: 'frame',
  afterDatasetsDraw(chart, args, opts) {
    const { ctx, chartArea: a, scales: { x, y } } = chart;
    ctx.save();
    ctx.strokeStyle = '#3a3a3a';
    ctx.lineWidth = 1;
    ctx.beginPath();
    for (let e = -3; e <= 0; e++) {
      for (let k = 1; k <= 9; k++) {
        const v = k * Math.pow(10, e);
        if (v < x.min * 0.999 || v > x.max * 1.001) continue;
        const px = Math.round(x.getPixelForValue(v)) + 0.5;
        const len = k === 1 ? 9 : 5;
        ctx.moveTo(px, a.bottom); ctx.lineTo(px, a.bottom - len);
        ctx.moveTo(px, a.top); ctx.lineTo(px, a.top + len);
      }
    }
    for (let n = Math.floor(y.min); n <= Math.ceil(y.max); n++) {
      for (let k = 1; k <= (opts.yMinor ? 9 : 1); k++) {
        const v = n + Math.log10(k);
        if (v < y.min || v > y.max) continue;
        const py = Math.round(y.getPixelForValue(v)) + 0.5;
        const len = k === 1 ? 9 : 5;
        ctx.moveTo(a.left, py); ctx.lineTo(a.left + len, py);
        ctx.moveTo(a.right, py); ctx.lineTo(a.right - len, py);
      }
    }
    ctx.stroke();
    ctx.lineWidth = 1.6;
    ctx.strokeStyle = '#2a2a2a';
    ctx.strokeRect(a.left, a.top, a.right - a.left, a.bottom - a.top);
    ctx.restore();
  }
};

function tickText(v) {
  for (let i = 0; i < xTickVals.length; i++) {
    if (Math.abs(Math.log10(v) - Math.log10(xTickVals[i])) < 1e-4) return xTickText[i];
  }
  return '';
}

function makePanel(p) {
  // the x scale adds its tick padding to its side paddings, so leave room on both sides
  const padL = 36, padR = 26, padT = 6, axisH = 48;
  const w = p.R - p.L + padL + padR, h = p.B - p.T + padT + axisH;
  const cv = document.createElement('canvas');
  cv.width = w; cv.height = h; cv.className = 'cv';
  cv.style.left = (p.L - padL) + 'px'; cv.style.top = (p.T - padT) + 'px';
  cv.style.width = w + 'px'; cv.style.height = h + 'px';
  document.body.appendChild(cv);
  new Chart(cv, {
    type: 'line',
    data: { datasets: p.sets },
    options: {
      responsive: false, animation: false, devicePixelRatio: 1,
      layout: { padding: { left: padL, right: padR, top: padT, bottom: 0 } },
      plugins: { legend: { display: false }, tooltip: { enabled: false }, frame: { yMinor: p.yMinor } },
      scales: {
        x: {
          type: 'logarithmic', min: p.xmin, max: p.xmax,
          grid: { display: false, drawTicks: false }, border: { display: false },
          ticks: { autoSkip: false, maxRotation: 0, minRotation: 0, padding: p.lab, color: '#111',
                   font: { family: '"Liberation Sans", Arial, sans-serif', size: 22, weight: 'bold' },
                   callback: v => tickText(v) },
          afterFit: s => { s.height = axisH; }
        },
        y: { type: 'linear', min: p.ymin, max: p.ymax, display: false }
      }
    },
    plugins: [framePlugin]
  });
}

function legend(labels, colors, o) {
  labels.forEach((lab, i) => {
    const cy = o.y0 + i * o.dy;
    const s = document.createElement('div');
    if (o.shape === 'circle') {
      const inner = 2 * o.r - 2 * o.bw;
      s.style.cssText = `position:absolute;left:${o.sx - o.r}px;top:${cy - o.r}px;width:${inner}px;height:${inner}px;border:${o.bw}px solid ${colors[i]};border-radius:50%;z-index:3`;
    } else {
      s.style.cssText = `position:absolute;left:${o.sx - o.r}px;top:${cy - o.r}px;width:${2 * o.r}px;height:${2 * o.r}px;background:${colors[i]};z-index:3`;
    }
    document.body.appendChild(s);
    const t = document.createElement('div');
    t.className = 'leg';
    t.style.cssText = `left:${o.tx}px;top:${cy - 0.49 * o.fs}px;font-size:${o.fs}px`;
    t.textContent = lab;
    document.body.appendChild(t);
  });
}

const [A3, A7, A16, A30, A43, A56, A68] = colA;
const [C4, C12, C22, C42, C62, C102, C122] = colC;
const [E2, E12, E22, E32, E42, E52, E62] = colE;
const [G5, G10, G15, G20, G30, G60, G90, G120] = colG;
const greenBox = 'rgba(164,200,26,0.92)';
const paleGreen = 'rgba(150,214,110,0.5)';
const orangeBox = 'rgba(250,198,80,0.55)';

const panels = [
  { L: 51, T: 46, R: 388, B: 384, xmin: 0.01, xmax: 0.2754, ymin: -0.635, ymax: 3.32, lab: 6, yMinor: true,
    sets: [
      band(a68, A68, 5), band(a56, A56, 5), band(a43, A43, 5), band(a30, A30, 5), band(a16, A16, 5),
      dots(a68pts, A68, 2.3), dots(a56pts, A56, 2.3), dots(a43pts, A43, 2.3), dots(a16pts, A16, 2.3),
      dots(a7, A7, 2.3), dots(a3, A3, 2.3),
      fit(a68.slice(1), 2), fit(a56.slice(1), 2), fit(a43.slice(1), 2), fit(a30.slice(1), 2), fit(a16.slice(1), 2), fit(a7fit, 2),
      shade(aBox, greenBox, false)
    ] },
  { L: 460, T: 49, R: 795, B: 382, xmin: 0.01, xmax: 0.274, ymin: -1.03, ymax: 3.96, lab: 8, yMinor: true,
    sets: [
      band(b68, A68, 5), band(b56, A56, 5), band(b43, A43, 5), band(b30, A30, 5), band(b16, A16, 5), band(b7fit, A7, 4),
      dots(b68pts, A68, 2.3), dots(b30pts, A30, 2.3), dots(b43pts, A43, 2.3), dots(b16pts, A16, 2.3),
      dots(b7, A7, 2.3), dots(b3, A3, 2.3),
      fit(b68.slice(1), 2), fit(b56.slice(1), 2), fit(b43.slice(1), 2), fit(b30.slice(1), 2), fit(b16.slice(1), 2),
      fit(b7fit, 2), fit(b3fit, 2),
      shade(bBox1, greenBox, false), shade(bBox2, paleGreen, true)
    ] },
  { L: 48, T: 486, R: 387, B: 787, xmin: 0.0077, xmax: 0.264, ymin: -1.0, ymax: 3.38, lab: 19, yMinor: true,
    sets: [
      band(c122, C122, 4), band(c102, C102, 4), band(c62, C62, 4), band(c42, C42, 4), band(c22, C22, 4), band(c12, C12, 4),
      band(c4fit, 'rgba(95,95,95,0.75)', 7),
      dots(c4, C4, 1.9), dots(c42pts, C42, 1.9), dots(c122pts, C122, 1.9), dots(c62pts, C62, 1.9), dots(c12pts, C12, 1.9),
      fit(c122, 1.6, '#222'), fit(c62, 1.6, '#222'), fit(c42, 1.6, '#222'), fit(c22, 1.6, '#222'), fit(c12, 1.6, '#222'), fit(c4fit, 1.6, '#222'),
      shade(cBox1, orangeBox, true), shade(cBox2, orangeBox, true)
    ] },
  { L: 467, T: 478, R: 797, B: 786, xmin: 0.0056, xmax: 0.1293, ymin: -0.98, ymax: 3.46, lab: 20, yMinor: true,
    sets: [
      band(d122, C122, 4), band(d102, C102, 4), band(d62, C62, 4), band(d42, C42, 4), band(d22, C22, 4), band(d12, C12, 4),
      dots(d4, C4, 1.9), dots(d12pts, C12, 1.9), dots(d22pts, C22, 1.9), dots(d62pts, C62, 1.9), dots(d122pts, C122, 1.9),
      fit(d122, 1.6, '#222'), fit(d102, 1.6, '#222'), fit(d62, 1.6, '#222'), fit(d42, 1.6, '#222'), fit(d22, 1.6, '#222'), fit(d12, 1.6, '#222'), fit(d4fit, 1.6, '#222'),
      shade(dBox, orangeBox, true)
    ] },
  { L: 49, T: 888, R: 389, B: 1187, xmin: 0.00712, xmax: 0.296, ymin: -1.01, ymax: 5.70, lab: 22, yMinor: false,
    sets: [
      band(e62, E62, 5), band(e52, E52, 5), band(e42, E42, 5), band(e32, E32, 5), band(e22, E22, 5), band(e12, E12, 5), band(e2, E2, 5),
      dots(e62pts, E62, 2.8, 'rect'), dots(e12pts, E12, 2.8, 'rect'), dots(e2pts, E2, 2.8, 'rect'),
      shade(eBox, orangeBox, true)
    ] },
  { L: 465, T: 885, R: 797, B: 1187, xmin: 0.00697, xmax: 0.2653, ymin: -1.0, ymax: 5.70, lab: 22, yMinor: false,
    sets: [
      band(f62, E62, 5), band(f52, E52, 5), band(f42, E42, 5), band(f32, E32, 5), band(f22, E22, 5), band(f12, E12, 5), band(f2, E2, 5),
      dots(f62pts, E62, 2.8, 'rect'), dots(f52pts, E52, 2.8, 'rect'), dots(f32pts, E32, 2.8, 'rect'),
      dots(f22pts, E22, 2.8, 'rect'), dots(f12pts, E12, 2.8, 'rect'), dots(f2pts, E2, 2.8, 'rect'),
      shade(fBox, orangeBox, true)
    ] },
  { L: 56, T: 1282, R: 388, B: 1528, xmin: 0.00493, xmax: 0.2171, ymin: -0.02, ymax: 3.06, lab: 22, yMinor: true,
    sets: [
      dots(g5, G5, 2.8, 'rect'), dots(g10, G10, 2.8, 'rect'), dots(g15, G15, 2.8, 'rect'), dots(g20, G20, 2.8, 'rect'),
      dots(g30, G30, 2.8, 'rect'), dots(g60, G60, 2.8, 'rect'), dots(g90, G90, 2.8, 'rect'), dots(g120, G120, 2.8, 'rect'),
      fit(g120fit, 1.3, '#333'), fit(g90fit, 1.3, '#333'), fit(g60fit, 1.3, '#333'), fit(gFitA, 1.3, '#333'), fit(gFitB, 1.3, '#333'),
      shade(gBox, orangeBox, true)
    ] },
  { L: 472, T: 1285, R: 797, B: 1532, xmin: 0.00482, xmax: 0.1855, ymin: -0.02, ymax: 3.0, lab: 19, yMinor: true,
    sets: [
      dots(h5, G5, 2.8, 'rect'), dots(h10, G10, 2.8, 'rect'), dots(h15, G15, 2.8, 'rect'), dots(h20, G20, 2.8, 'rect'),
      dots(h30, G30, 2.8, 'rect'), dots(h60, G60, 2.8, 'rect'), dots(h90, G90, 2.8, 'rect'), dots(h120, G120, 2.8, 'rect'),
      fit(hFit, 1.3, '#333'),
      shade(hBox, orangeBox, true)
    ] }
];

panels.forEach(makePanel);

legend(legA, colA, { shape: 'circle', sx: 76, tx: 90, y0: 250, dy: 18.9, r: 4.5, bw: 1.6, fs: 15 });
legend(legC, colC, { shape: 'circle', sx: 293, tx: 312, y0: 494, dy: 21.45, r: 5.5, bw: 1.2, fs: 16 });
legend(legE, colE, { shape: 'square', sx: 76, tx: 98, y0: 1013.3, dy: 23.6, r: 2.3, fs: 16 });
legend(legG, colG, { shape: 'square', sx: 309, tx: 325, y0: 1291.7, dy: 18.9, r: 2.3, fs: 15 });
</script>
</body>
</html>
